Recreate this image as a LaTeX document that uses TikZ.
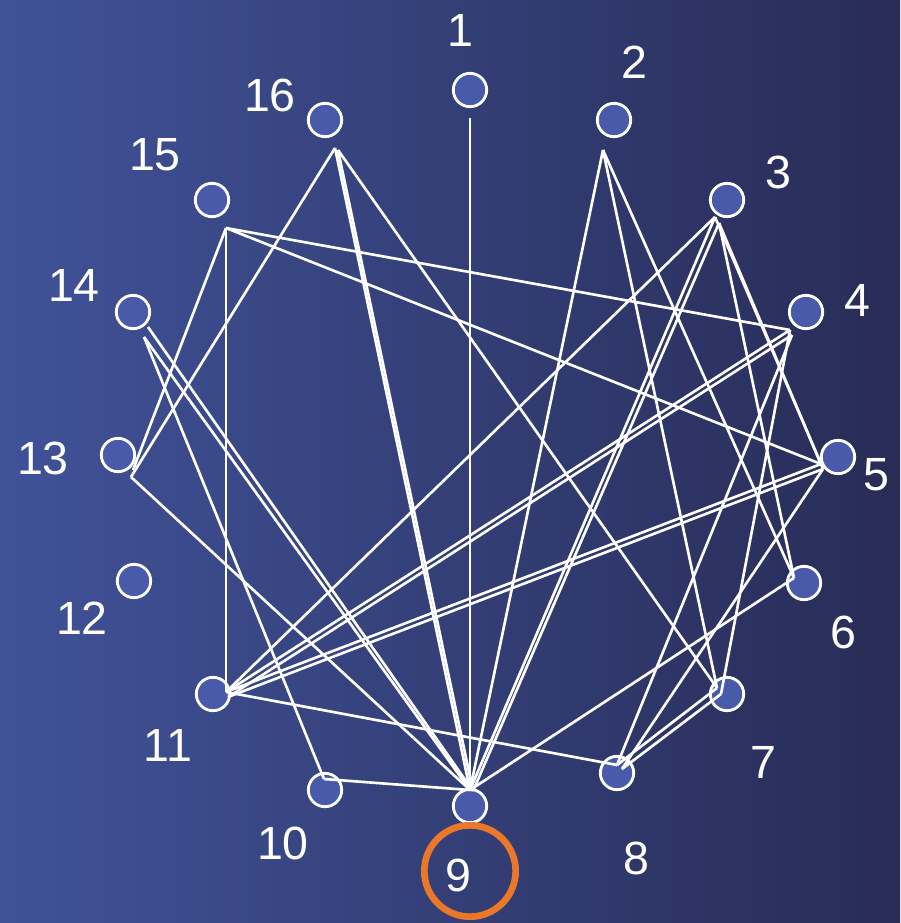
\documentclass[tikz,border=0pt]{standalone}
\usepackage{fontspec}
\setmainfont{Liberation Sans}
\definecolor{bgleft}{RGB}{64,82,152}
\definecolor{bgright}{RGB}{40,44,86}
\definecolor{nodefill}{RGB}{74,90,170}
\definecolor{ring}{RGB}{235,120,40}
\tikzset{
  vertex/.style={circle,draw=white,line width=1.6pt,fill=nodefill,minimum size=19pt,inner sep=0pt},
  lbl/.style={text=white,font=\fontsize{26.5}{26.5}\selectfont,inner sep=0pt},
  edge/.style={draw=white,line width=1.5pt}
}
\begin{document}
\begin{tikzpicture}[x=0.02cm,y=-0.02cm]
\shade[left color=bgleft,right color=bgright] (0,0) rectangle (900,923);
\useasboundingbox (0,0) rectangle (900,923);
% vertices
\node[vertex] (n1) at (470,90) {};
\node[vertex] (n2) at (614,120) {};
\node[vertex] (n3) at (727,200) {};
\node[vertex] (n4) at (806,312) {};
\node[vertex] (n5) at (838,457) {};
\node[vertex] (n6) at (804,583) {};
\node[vertex] (n7) at (727,694) {};
\node[vertex] (n8) at (617,773) {};
\node[vertex] (n9) at (470,806) {};
\node[vertex] (n10) at (325,790) {};
\node[vertex] (n11) at (213,694) {};
\node[vertex] (n12) at (134,581) {};
\node[vertex] (n13) at (118,455) {};
\node[vertex] (n14) at (133,312) {};
\node[vertex] (n15) at (212,200) {};
\node[vertex] (n16) at (325,120) {};
% labels
\node[lbl] (l1) at (460,30) {1};
\node[lbl] (l2) at (634,62) {2};
\node[lbl] (l3) at (778,172) {3};
\node[lbl] (l4) at (857,300) {4};
\node[lbl] (l5) at (876,475) {5};
\node[lbl] (l6) at (843,632) {6};
\node[lbl] (l7) at (763,762) {7};
\node[lbl] (l8) at (636,858) {8};
\node[lbl] (l9) at (458,875) {9};
\node[lbl] (l10) at (283,843) {10};
\node[lbl] (l11) at (168,745) {11};
\node[lbl] (l12) at (82,618) {12};
\node[lbl] (l13) at (43,458) {13};
\node[lbl] (l14) at (74,285) {14};
\node[lbl] (l15) at (155,155) {15};
\node[lbl] (l16) at (270,95) {16};
\node[circle,draw=ring,line width=3.8pt,minimum size=52pt,inner sep=0pt] (hl) at (470,871) {};
% edge anchors
\coordinate (a1) at (470,118);
\coordinate (a2) at (603,150);
\coordinate (a3) at (715,217);
\coordinate (b3) at (719,223);
\coordinate (a4) at (790,330);
\coordinate (b4) at (792,335);
\coordinate (a5) at (821,464);
\coordinate (b5) at (823,469);
\coordinate (a6) at (794,578);
\coordinate (a7) at (717,688);
\coordinate (b7) at (721,694);
\coordinate (a8) at (617,765);
\coordinate (b8) at (622,769);
\coordinate (a9) at (470,790);
\coordinate (b9) at (473,791);
\coordinate (a10) at (324,779);
\coordinate (a11) at (226,692);
\coordinate (b11) at (228,697);
\coordinate (a13) at (131,477);
\coordinate (b13) at (133,470);
\coordinate (a14) at (144,337);
\coordinate (b14) at (148,327);
\coordinate (a15) at (226,228);
\coordinate (a16) at (335,148);
\coordinate (b16) at (338,150);
% edges
\draw[edge] (a1) -- (a9);
\draw[edge] (a2) -- (a9);
\draw[edge] (a2) -- (a7);
\draw[edge] (a2) -- (a6);
\draw[edge] (a3) -- (a11);
\draw[edge] (a3) -- (a9);
\draw[edge] (b3) -- (b9);
\draw[edge] (b3) -- (a6);
\draw[edge] (a3) -- (a5);
\draw[edge] (b3) -- (b5);
\draw[edge] (a4) -- (a15);
\draw[edge] (a4) -- (a11);
\draw[edge] (b4) -- (b11);
\draw[edge] (a4) -- (b7);
\draw[edge] (b4) -- (a8);
\draw[edge] (a5) -- (a15);
\draw[edge] (a5) -- (a11);
\draw[edge] (b5) -- (b11);
\draw[edge] (b5) -- (b8);
\draw[edge] (a6) -- (a9);
\draw[edge] (a7) -- (a8);
\draw[edge] (b7) -- (b8);
\draw[edge] (a8) -- (a11);
\draw[edge] (a9) -- (a10);
\draw[edge] (a10) -- (a14);
\draw[edge] (a14) -- (a9);
\draw[edge] (b14) -- (b9);
\draw[edge] (a13) -- (a9);
\draw[edge] (a16) -- (a9);
\draw[edge] (b16) -- (b9);
\draw[edge] (a16) -- (a13);
\draw[edge] (b16) -- (a7);
\draw[edge] (a15) -- (b13);
\draw[edge] (a15) -- (a11);
\end{tikzpicture}
\end{document}
